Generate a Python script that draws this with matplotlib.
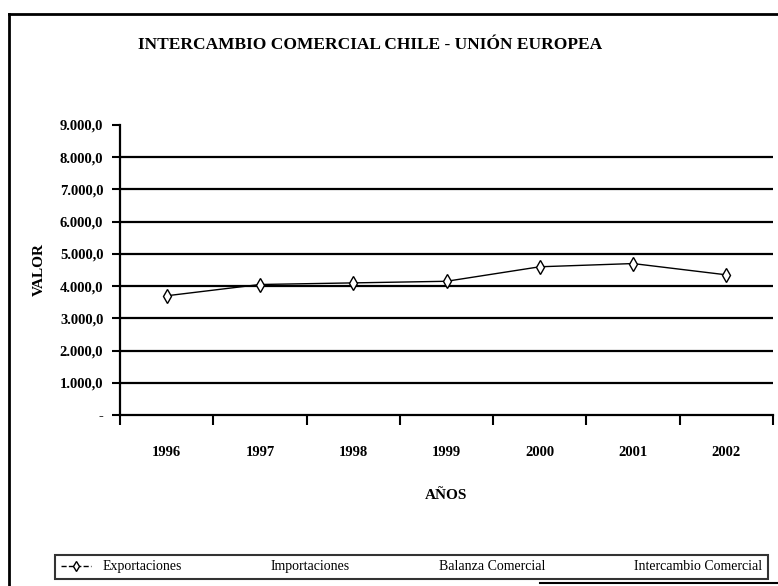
# plot.py
# Intercambio comercial Chile - Unión Europea (line chart, scanned style)

import matplotlib
matplotlib.use('Agg')
import matplotlib.pyplot as plt
from matplotlib.lines import Line2D
from matplotlib.ticker import FixedLocator, FuncFormatter

plt.rcParams['font.family'] = ['Liberation Serif', 'DejaVu Serif']

# ── data ─────────────────────────────────────────────────────────────
years        = ['1996', '1997', '1998', '1999', '2000', '2001', '2002']
exportaciones = [3700, 4050, 4100, 4150, 4600, 4700, 4350]
series_names = ['Exportaciones', 'Importaciones', 'Balanza Comercial',
                'Intercambio Comercial']
y_ticks      = [0, 1000, 2000, 3000, 4000, 5000, 6000, 7000, 8000, 9000]


def _fmt(v, pos=None):
    if v == 0:
        return '-'
    s = f'{v:,.1f}'
    return s.replace(',', 'X').replace('.', ',').replace('X', '.')


fig = plt.figure(figsize=(7.78, 5.86), dpi=100)
W, H = 778, 586
ax = fig.add_axes([120 / W, 1 - 415 / H, (773 - 120) / W, (415 - 125) / H])

x = list(range(len(years)))
ax.plot(x, exportaciones, '-', color='black', lw=1.0,
        marker='d', ms=7, mfc='white', mec='black', mew=1.0, zorder=3)

# gridlines 1.000 .. 8.000
for v in y_ticks[1:-1]:
    ax.axhline(v, color='black', lw=1.6, zorder=1)

ax.set_xlim(-0.5, len(years) - 0.5)
ax.set_ylim(0, 9000)

ax.yaxis.set_major_locator(FixedLocator(y_ticks))
ax.yaxis.set_major_formatter(FuncFormatter(_fmt))
ax.xaxis.set_major_locator(FixedLocator([i - 0.5 for i in range(len(years) + 1)]))
ax.xaxis.set_major_formatter(FuncFormatter(lambda v, p: ''))
ax.xaxis.set_minor_locator(FixedLocator(x))
ax.set_xticklabels(years, minor=True)

ax.tick_params(axis='y', direction='out', length=6, width=1.5,
               labelsize=10.5, pad=6)
ax.tick_params(axis='x', which='major', direction='out', length=7, width=1.5)
ax.tick_params(axis='x', which='minor', length=0, labelsize=10.5, pad=22)
for lbl in ax.get_yticklabels() + ax.get_xticklabels(minor=True):
    lbl.set_fontweight('bold')

for s in ('top', 'right'):
    ax.spines[s].set_visible(False)
for s in ('left', 'bottom'):
    ax.spines[s].set_linewidth(1.6)

ax.set_ylabel('VALOR', fontsize=11, fontweight='bold', labelpad=10)
ax.set_xlabel('AÑOS', fontsize=11, fontweight='bold', labelpad=22)

fig.text(370 / W, 1 - 45 / H, 'INTERCAMBIO COMERCIAL CHILE - UNIÓN EUROPEA',
         ha='center', va='center', fontsize=12.5, fontweight='bold')

# legend
handles = [Line2D([], [], color='black', lw=1.0, ls='--', marker='d', ms=5,
                  mfc='white', mec='black')]
handles += [Line2D([], [], color='none') for _ in series_names[1:]]
leg = fig.legend(handles, series_names, ncol=4, loc='lower left',
                 bbox_to_anchor=(55 / W, 1 - 579 / H, (768 - 55) / W, 42 / H),
                 bbox_transform=fig.transFigure, mode='expand',
                 fontsize=10, frameon=True, fancybox=False,
                 handlelength=2.2, borderaxespad=0)
leg.get_frame().set_edgecolor('black')
leg.get_frame().set_linewidth(1.5)

# outer frame (left / top), as in the scanned page
fig.add_artist(Line2D([9 / W, 9 / W], [0, 1 - 14 / H], color='black', lw=2,
                      transform=fig.transFigure))
fig.add_artist(Line2D([9 / W, 1], [1 - 14 / H, 1 - 14 / H], color='black', lw=2,
                      transform=fig.transFigure))
fig.add_artist(Line2D([540 / W, 1], [1 - 583 / H, 1 - 583 / H], color='black',
                      lw=1.5, transform=fig.transFigure))

fig.savefig('out.png', dpi=100)
